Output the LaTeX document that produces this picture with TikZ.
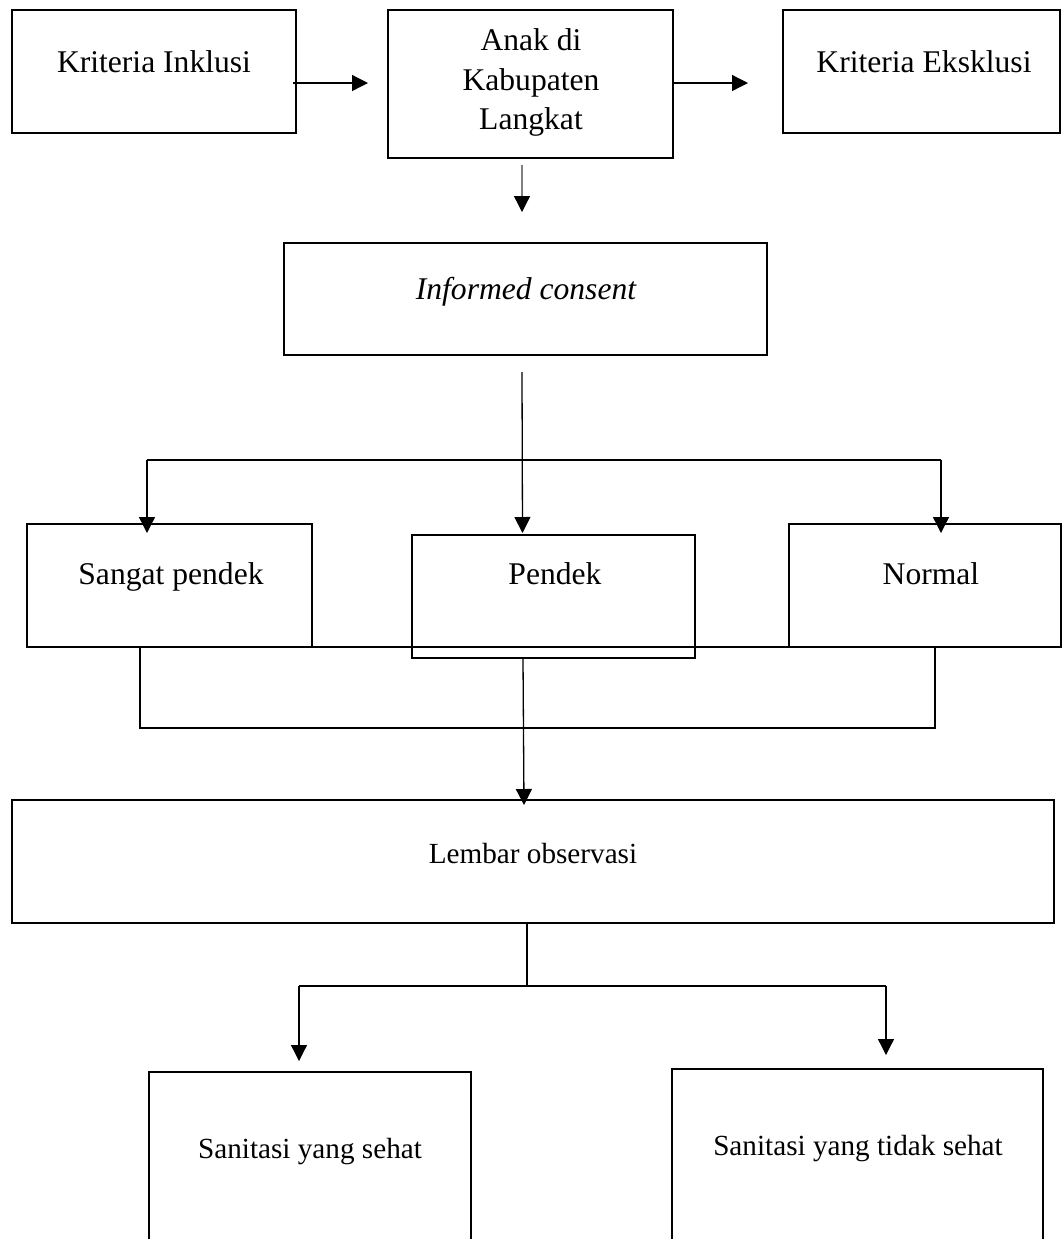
\documentclass[tikz,border=0pt]{standalone}
\usepackage{fontspec}
\setmainfont{Liberation Serif}
\usetikzlibrary{arrows.meta}
\begin{document}
\begin{tikzpicture}[x=0.5pt,y=-0.5pt,
  boxnode/.style={draw=black,line width=1.3pt,rectangle,inner sep=0pt,outer sep=0pt},
  bigtxt/.style={anchor=base,inner sep=0pt,font=\fontsize{15.8}{19.75}\selectfont,align=center},
  smalltxt/.style={anchor=base,inner sep=0pt,font=\fontsize{14.6}{18}\selectfont},
  arr/.style={line width=0.65pt,-{Triangle[length=8pt,width=8pt,color=black]}},
  conn/.style={line width=0.65pt},
  thickconn/.style={line width=1.3pt}]
\useasboundingbox (0,0) rectangle (1063,1239);
\fill[white] (0,0) rectangle (1063,1239);

% boxes
\node[boxnode,minimum width=142pt,minimum height=61.5pt] (inkl) at (154,71.5) {};
\node[boxnode,minimum width=142.5pt,minimum height=74pt] (anak) at (530.5,84) {};
\node[boxnode,minimum width=138.5pt,minimum height=61.5pt] (eksk) at (921.5,71.5) {};
\node[boxnode,minimum width=241.5pt,minimum height=56pt] (inf) at (525.5,299) {};
\node[boxnode,minimum width=142.5pt,minimum height=61.5pt] (sangat) at (169.5,585.5) {};
\node[boxnode,minimum width=141.5pt,minimum height=61.5pt] (pendek) at (553.5,596.5) {};
\node[boxnode,minimum width=136pt,minimum height=61.5pt] (normal) at (925,585.5) {};
\node[boxnode,minimum width=521pt,minimum height=61.5pt] (lembar) at (533,861.5) {};
\node[rectangle,inner sep=0pt,outer sep=0pt,minimum width=161pt,minimum height=83.5pt] (sehat) at (310,1155.5) {};
\node[rectangle,inner sep=0pt,outer sep=0pt,minimum width=185.5pt,minimum height=85pt] (tidak) at (857.5,1154) {};
\draw[line width=1.3pt] (sehat.south west) |- (sehat.north east) -- (sehat.south east);
\draw[line width=1.3pt] (tidak.south west) |- (tidak.north east) -- (tidak.south east);

% texts
\node[bigtxt] (inklT) at (154,72) {Kriteria Inklusi};
\node[bigtxt] (anakT1) at (531,50) {Anak di};
\node[bigtxt] (anakT2) at (531,90) {Kabupaten};
\node[bigtxt] (anakT3) at (531,129) {Langkat};
\node[bigtxt] (ekskT) at (924,72) {Kriteria Eksklusi};
\node[bigtxt] (infT) at (526,299) {\itshape Informed consent};
\node[bigtxt] (sangatT) at (171,584) {Sangat pendek};
\node[bigtxt] (pendekT) at (555,584) {Pendek};
\node[bigtxt] (normalT) at (931,584) {Normal};
\node[smalltxt] (lembarT) at (533,863) {Lembar observasi};
\node[smalltxt] (sehatT) at (310,1158) {Sanitasi yang sehat};
\node[smalltxt] (tidakT) at (858,1155) {Sanitasi yang tidak sehat};

% top connectors
\draw[arr] ([shift={(-3,11.5)}]inkl.east) -- ([shift={(-20,-1)}]anak.west);
\draw[arr] ([shift={(0,-1)}]anak.east) -- ([shift={(-35,11.5)}]eksk.west);
\draw[arr,draw=gray] ([shift={(-8.5,7)}]anak.south) -- ([shift={(-3.5,-31)}]inf.north);

% fork to three categories
\coordinate (forkL) at (147,460);
\coordinate (forkR) at (941,460);
\draw[conn] (forkL) -- (forkR);
\draw[arr] ([shift={(-3.5,17)}]inf.south) -- ([shift={(-31,-2)}]pendek.north);
\draw[arr] (forkL) -- ([shift={(-22.5,9)}]sangat.north);
\draw[arr] (forkR) -- ([shift={(16,9)}]normal.north);

% join below categories
\draw[thickconn] (sangat.south east) -- (normal.south west);
\draw[thickconn] ([shift={(-29.5,0)}]sangat.south) -- ++(0,81) -| ([shift={(10,0)}]normal.south);
\draw[arr] ([shift={(-30.5,0)}]pendek.south) -- ([shift={(-9,5)}]lembar.north);

% fork to sanitation
\coordinate (forkM) at (527,986);
\coordinate (forkSL) at (299,986);
\coordinate (forkSR) at (886,986);
\draw[conn] ([shift={(-6,0)}]lembar.south) -- (forkM);
\draw[conn] (forkSL) -- (forkSR);
\draw[arr] (forkSL) -- ([shift={(-11,-11)}]sehat.north);
\draw[arr] (forkSR) -- ([shift={(28.5,-14)}]tidak.north);
\end{tikzpicture}
\end{document}
